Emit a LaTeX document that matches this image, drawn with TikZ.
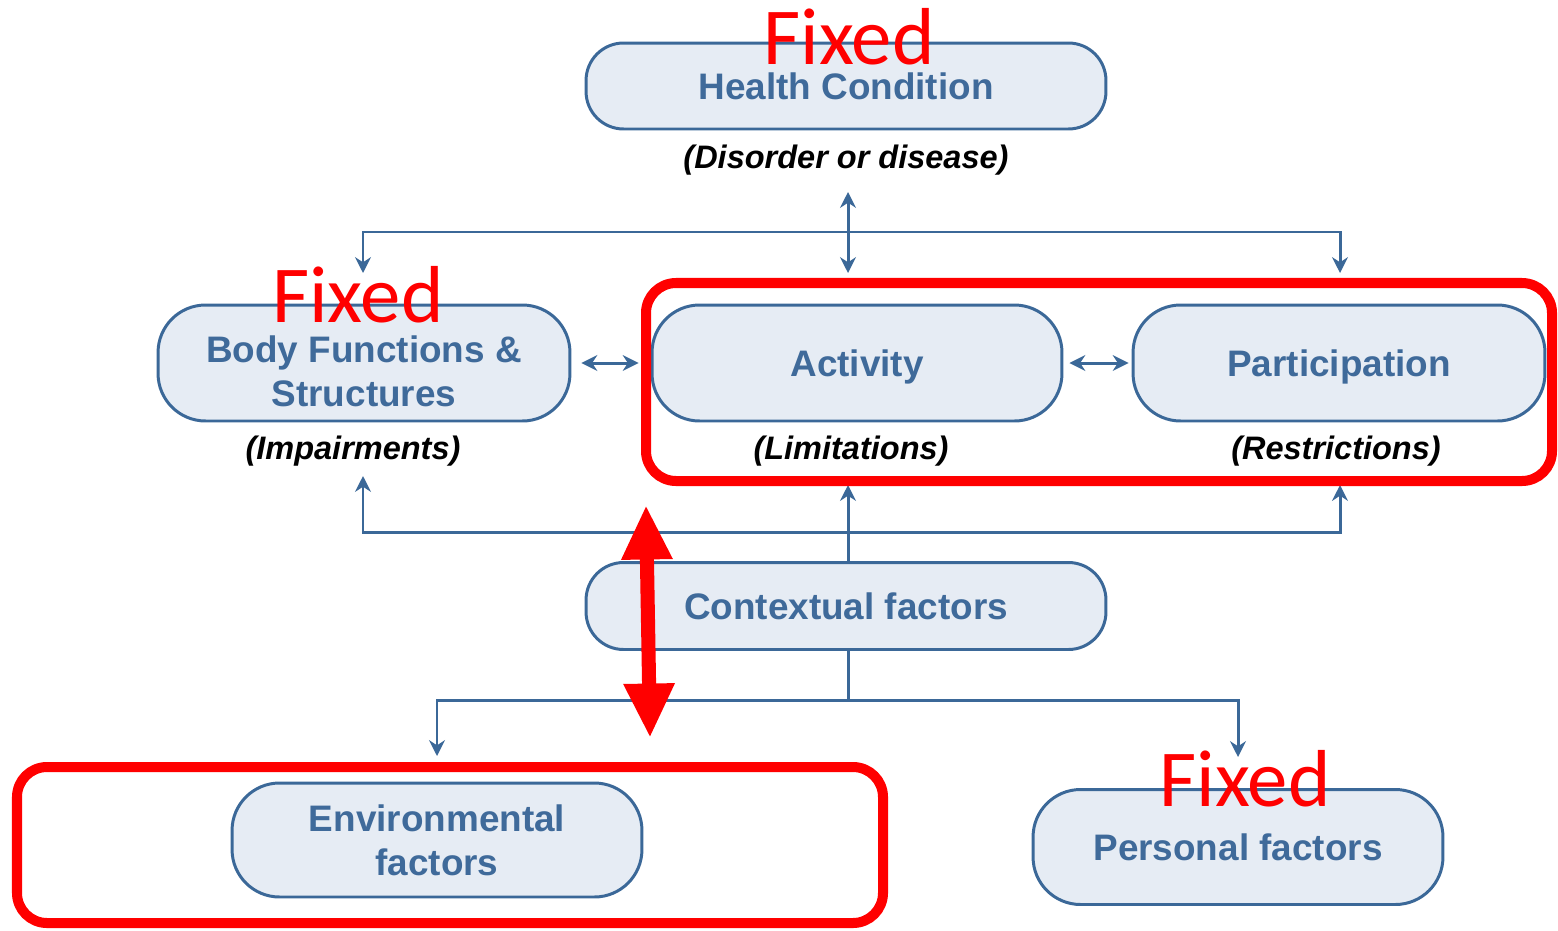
\documentclass[tikz,border=0pt]{standalone}
\usepackage{fontspec}
\setmainfont{Liberation Sans}
\newfontfamily\fixfont{Carlito}
\usetikzlibrary{arrows.meta}
\definecolor{icfblue}{HTML}{3B6898}
\definecolor{icffill}{HTML}{E6ECF4}
\definecolor{icftext}{HTML}{3F6A9A}
\definecolor{fixred}{HTML}{FF0000}
\tikzset{
  pill/.style={draw=icfblue, fill=icffill, line width=1.7pt, align=center,
    text=icftext, font=\fontsize{21}{25}\selectfont\bfseries, inner sep=0pt},
  pilltext/.style={align=center, text=icftext, font=\fontsize{21}{25}\selectfont\bfseries, inner sep=0pt},
  sublabel/.style={font=\fontsize{18.5}{22}\selectfont\bfseries\itshape, text=black, inner sep=0pt},
  conn/.style={draw=icfblue, line width=1.7pt},
  tip/.tip={Stealth[length=9pt,width=9pt]},
  fixedlabel/.style={text=fixred, font=\fixfont\fontsize{46}{50}\selectfont, inner sep=0pt},
  redbox/.style={draw=fixred, line width=5.7pt, rounded corners=0.6cm},
  bigtip/.tip={Triangle[length=31pt,width=27pt]}
}
\begin{document}
\begin{tikzpicture}[x=0.02cm, y=-0.02cm]
\useasboundingbox (0,0) rectangle (1558,930);

% nodes
\node[pill, minimum width=10.4cm, minimum height=1.72cm, rounded corners=0.75cm] (hc) at (846,86) {Health Condition};
\node[sublabel] (hcsub) at (846,160) {(Disorder or disease)};
\node[pill, minimum width=8.24cm, minimum height=2.32cm, rounded corners=0.95cm] (body) at (364,363) {};
\node[pilltext] (bodytext) at (364,371) {Body Functions \&\\Structures};
\node[sublabel] (bodysub) at (353,451) {(Impairments)};
\node[pill, minimum width=8.2cm, minimum height=2.32cm, rounded corners=0.95cm, text depth=0pt] (act) at (857,363) {Activity};
\node[sublabel] (actsub) at (851,451) {(Limitations)};
\node[pill, minimum width=8.24cm, minimum height=2.32cm, rounded corners=0.95cm, text depth=0pt] (part) at (1339,363) {Participation};
\node[sublabel] (partsub) at (1336,451) {(Restrictions)};
\node[pill, minimum width=10.4cm, minimum height=1.74cm, rounded corners=0.75cm] (ctx) at (846,606) {Contextual factors};
\node[pill, minimum width=8.2cm, minimum height=2.28cm, rounded corners=0.95cm] (env) at (437,840) {Environmental\\factors};
\node[pill, minimum width=8.2cm, minimum height=2.3cm, rounded corners=0.95cm] (pers) at (1238,847) {Personal factors};

% coordinates for connectors
\coordinate (hcA) at (848,192);
\coordinate (hcB) at (848,273);
\coordinate (topL) at (363,232);
\coordinate (topR) at (1340,232);
\coordinate (bodyIn) at (363,273);
\coordinate (partIn) at (1340,273);
\coordinate (botL) at (363,532);
\coordinate (botR) at (1340,532);
\coordinate (impIn) at (363,476);
\coordinate (resIn) at (1340,485);
\coordinate (limIn) at (848,485);
\coordinate (ctxDown) at (848,700);
\coordinate (envRow) at (437,700);
\coordinate (persRow) at (1238,700);
\coordinate (envIn) at (437,756);
\coordinate (persIn) at (1238,757);

% connectors
\draw[conn, tip-tip] (hcA) -- (hcB);
\draw[conn, tip-tip] (bodyIn) -- (topL) -- (topR) -- (partIn);
\draw[conn, tip-tip, shorten <=0.2cm, shorten >=0.24cm] (body) -- (act);
\draw[conn, tip-tip, shorten <=0.12cm, shorten >=0.06cm] (act) -- (part);
\draw[conn, tip-tip] (impIn) -- (botL) -- (botR) -- (resIn);
\draw[conn, -tip] (ctx.north -| limIn) -- (limIn);
\draw[conn] (ctx.south -| ctxDown) -- (ctxDown);
\draw[conn, tip-tip] (envIn) -- (envRow) -- (persRow) -- (persIn);

% red annotations
\draw[redbox] (646,283) rectangle (1552,481);
\draw[redbox] (17,767) rectangle (883,923);
\coordinate (redA) at (646,505);
\coordinate (redB) at (650,738);
\draw[fixred, line width=8pt, bigtip-bigtip] (redA) -- (redB);

\node[fixedlabel] (fx1) at (849,37) {Fixed};
\node[fixedlabel] (fx2) at (358,295) {Fixed};
\node[fixedlabel] (fx3) at (1245,779) {Fixed};
\end{tikzpicture}
\end{document}
